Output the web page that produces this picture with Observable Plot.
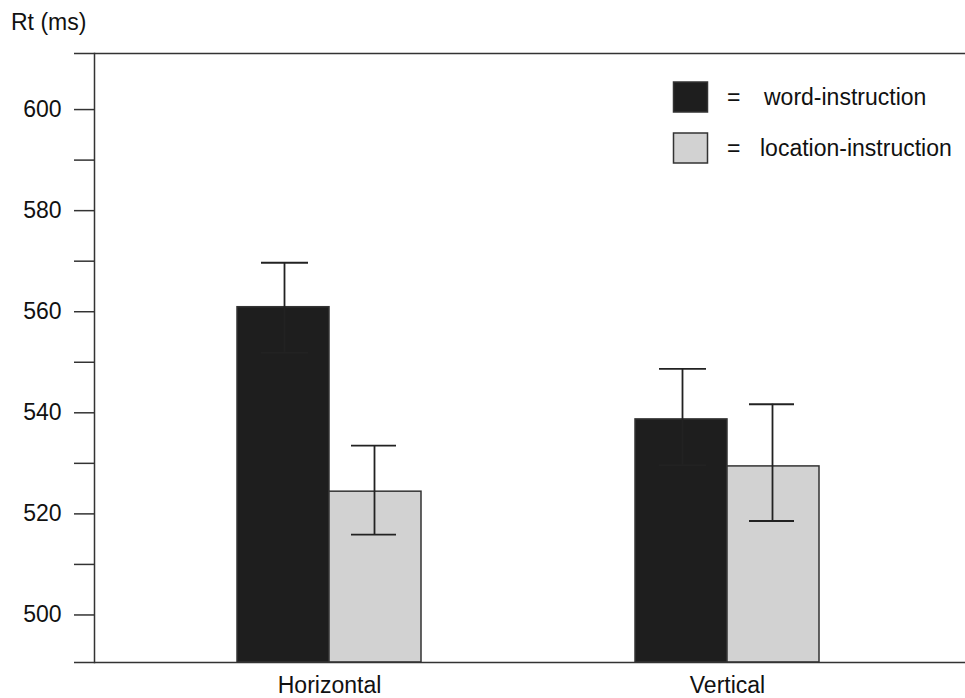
<!DOCTYPE html>
<html>
<head>
<meta charset="utf-8">
<script src="https://cdn.jsdelivr.net/npm/d3@7"></script>
<script src="https://cdn.jsdelivr.net/npm/@observablehq/plot@0.6"></script>
<style>
  html, body { margin: 0; padding: 0; background: #fff; }
  #chart { position: relative; width: 965px; height: 698px; }
  svg { font-family: "Liberation Sans", Arial, Helvetica, sans-serif; }
</style>
</head>
<body>
<div id="chart"></div>
<script>
// ---- data ----
const groups = ["Horizontal", "Vertical"];
const wordMean = [560.3, 538.1];
const wordLo = [551.3, 529.0];
const wordHi = [569.1, 548.1];
const locMean = [523.8, 528.8];
const locLo = [515.3, 518.0];
const locHi = [532.9, 541.1];
const seriesNames = ["word-instruction", "location-instruction"];
const yTicks = [500, 510, 520, 530, 540, 550, 560, 570, 580, 590, 600];
const yLabelTicks = [500, 520, 540, 560, 580, 600];
const yMin = 490, yMax = 610.5;

const rows = groups.map((g, i) => ({
  group: g,
  word: wordMean[i], wordLo: wordLo[i], wordHi: wordHi[i],
  loc: locMean[i], locLo: locLo[i], locHi: locHi[i]
}));

const dark = "#1e1e1e", light = "#d2d2d2", ink = "#222";

const plot = Plot.plot({
  width: 965,
  height: 698,
  marginLeft: 94,
  marginRight: 0,
  marginTop: 53,
  marginBottom: 36,
  style: {fontFamily: "Liberation Sans, Arial, sans-serif", fontSize: "23px", color: "#111", background: "#fff"},
  x: {domain: groups, paddingInner: 0.5388, paddingOuter: 0.361, align: 0.495, axis: null, label: null},
  y: {domain: [yMin, yMax], axis: null, label: null},
  marks: [
    // bars
    Plot.barY(rows, {x: "group", y1: () => yMin, y2: "word", fill: dark, stroke: "#333", strokeWidth: 1.5, insetRight: 92}),
    Plot.barY(rows, {x: "group", y1: () => yMin, y2: "loc", fill: light, stroke: "#333", strokeWidth: 1.5, insetLeft: 92}),
    // error bars
    Plot.ruleX(rows, {x: "group", y1: "wordLo", y2: "wordHi", dx: -45, stroke: ink, strokeWidth: 1.8}),
    Plot.ruleX(rows, {x: "group", y1: "locLo", y2: "locHi", dx: 45, stroke: ink, strokeWidth: 1.8}),
    Plot.tickY(rows, {x: "group", y: "wordLo", insetLeft: 24, insetRight: 113, stroke: ink, strokeWidth: 1.8}),
    Plot.tickY(rows, {x: "group", y: "wordHi", insetLeft: 24, insetRight: 113, stroke: ink, strokeWidth: 1.8}),
    Plot.tickY(rows, {x: "group", y: "locLo", insetLeft: 114, insetRight: 25, stroke: ink, strokeWidth: 1.8}),
    Plot.tickY(rows, {x: "group", y: "locHi", insetLeft: 114, insetRight: 25, stroke: ink, strokeWidth: 1.8}),
    // axes
    Plot.axisY({ticks: yTicks, tickSize: 20, tickPadding: 13, dy: 3, fontSize: 23, stroke: "#333", strokeWidth: 1.5, label: null,
      tickFormat: d => yLabelTicks.includes(d) ? String(d) : ""}),
    Plot.axisX({tickSize: 0, tickPadding: 14, fontSize: 23, label: null}),
    Plot.ruleY([yMin, yMax], {insetLeft: -20, stroke: "#333", strokeWidth: 1.5}),
    Plot.frame({anchor: "left", stroke: "#333", strokeWidth: 1.5})
  ]
});

document.getElementById("chart").appendChild(plot);

// y-axis title and legend
const svg = d3.select(plot);
svg.append("text").attr("x", 11).attr("y", 30).attr("text-anchor", "start")
  .attr("font-size", 23).attr("fill", "#111").text("Rt (ms)");

const legendColors = [dark, light];
const legend = svg.append("g").attr("font-size", 23).attr("fill", "#111").attr("text-anchor", "start");
seriesNames.forEach((name, i) => {
  const top = 82 + i * 51;
  legend.append("rect").attr("x", 673.5).attr("y", top).attr("width", 34).attr("height", 30)
    .attr("fill", legendColors[i]).attr("stroke", "#333").attr("stroke-width", 1.5);
  legend.append("text").attr("x", 727).attr("y", top + 23).text("=");
  legend.append("text").attr("x", i === 0 ? 764 : 760).attr("y", top + 23).text(name);
});
</script>
</body>
</html>
